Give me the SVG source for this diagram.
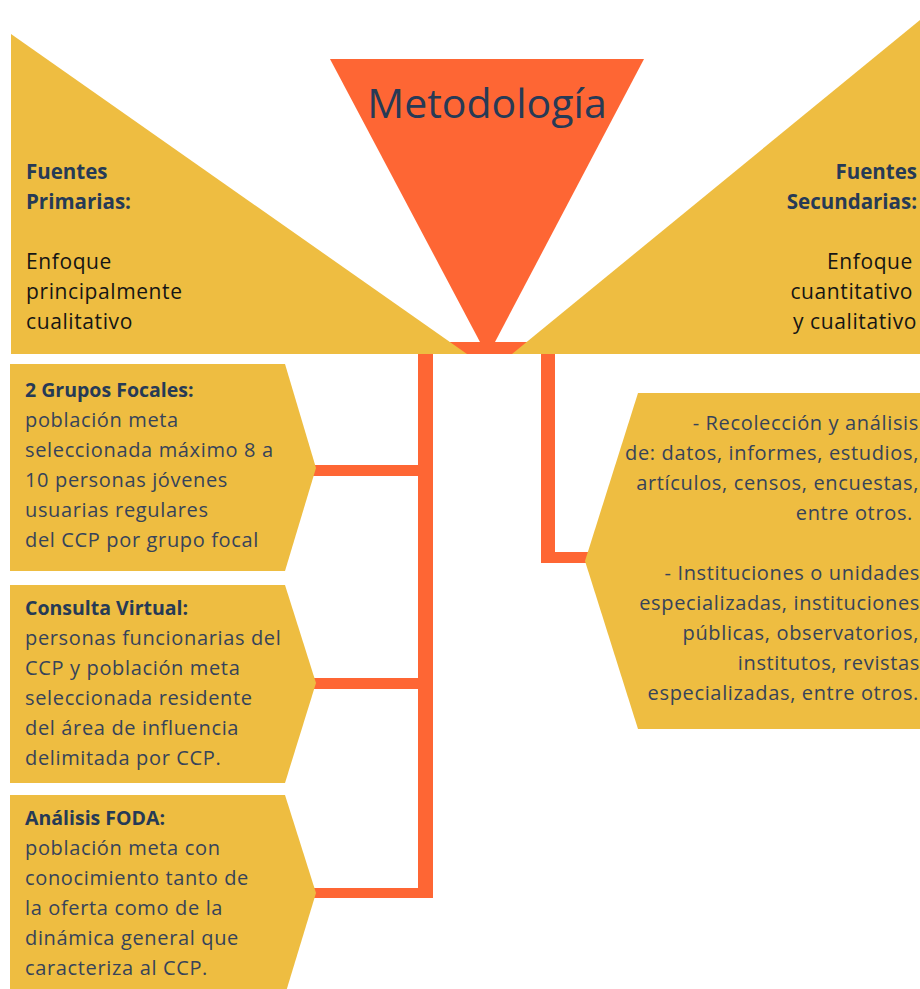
<svg xmlns="http://www.w3.org/2000/svg" width="920" height="989" viewBox="0 0 920 989">
<style>
.y{fill:#EEBD41}
.o{fill:#FE6634}
.c{fill:none;stroke:#FE6634;stroke-linecap:butt;stroke-linejoin:miter}
.t{font-family:"Open Sans","Liberation Sans",sans-serif;font-size:20px;letter-spacing:0.65px;fill:#36435A}
.h{font-family:"Open Sans","Liberation Sans",sans-serif;font-size:19.5px;font-weight:700;letter-spacing:0;fill:#263A56}
.tb{font-family:"Open Sans","Liberation Sans",sans-serif;font-size:21px;letter-spacing:0.6px;fill:#151515}
.th{font-family:"Open Sans","Liberation Sans",sans-serif;font-size:20.5px;font-weight:700;fill:#263A56}
.r{text-anchor:end}
</style>
<rect width="920" height="989" fill="#FFFFFF"/>
<g id="connectors">
<rect class="o" x="418" y="342" width="137" height="12"/>
<path class="c" stroke-width="15" d="M425.5 348 V898"/>
<path class="c" stroke-width="11" d="M300 470.5 H425"/>
<path class="c" stroke-width="11" d="M300 683.5 H425"/>
<path class="c" stroke-width="10" d="M300 893 H433"/>
<path class="c" stroke-width="14" d="M548 348 V563"/>
<path class="c" stroke-width="11" d="M541 557.5 H600"/>
</g>
<g id="metodologia">
<polygon class="o" points="330,59 644,59 495,342 480,342"/>
<text x="487" y="118" text-anchor="middle" font-family="'Open Sans','Liberation Sans',sans-serif" font-size="41" fill="#263A56">Metodología</text>
</g>
<g id="fuentes-primarias">
<polygon class="y" points="11,34 467,354 11,354"/>
<text class="th" x="26" y="179">Fuentes</text>
<text class="th" x="26" y="209">Primarias:</text>
<text class="tb" x="26" y="269">Enfoque</text>
<text class="tb" x="26" y="299">principalmente</text>
<text class="tb" x="26" y="329">cualitativo</text>
</g>
<g id="fuentes-secundarias">
<polygon class="y" points="920,20 920,354 512,354"/>
<text class="th r" x="917" y="179">Fuentes</text>
<text class="th r" x="917" y="209">Secundarias:</text>
<text class="tb r" x="913" y="269">Enfoque</text>
<text class="tb r" x="913" y="299">cuantitativo</text>
<text class="tb r" x="917" y="329">y cualitativo</text>
</g>
<g id="grupos-focales">
<polygon class="y" points="10,364 285,364 316,468 285,571 10,571"/>
<text class="h" x="25" y="397">2 Grupos Focales:</text>
<text class="t" x="25" y="427">población meta</text>
<text class="t" x="25" y="457">seleccionada máximo 8 a</text>
<text class="t" x="25" y="487">10 personas jóvenes</text>
<text class="t" x="25" y="517">usuarias regulares</text>
<text class="t" x="25" y="547">del CCP por grupo focal</text>
</g>
<g id="consulta-virtual">
<polygon class="y" points="10,585 285,585 316,683 285,783 10,783"/>
<text class="h" x="25" y="615">Consulta Virtual:</text>
<text class="t" x="25" y="645">personas funcionarias del</text>
<text class="t" x="25" y="675">CCP y población meta</text>
<text class="t" x="25" y="705">seleccionada residente</text>
<text class="t" x="25" y="735">del área de influencia</text>
<text class="t" x="25" y="765">delimitada por CCP.</text>
</g>
<g id="analisis-foda">
<polygon class="y" points="10,795 285,795 316,893 285,995 10,995"/>
<text class="h" x="25" y="825">Análisis FODA:</text>
<text class="t" x="25" y="855">población meta con</text>
<text class="t" x="25" y="885">conocimiento tanto de</text>
<text class="t" x="25" y="915">la oferta como de la</text>
<text class="t" x="25" y="945">dinámica general que</text>
<text class="t" x="25" y="975">caracteriza al CCP.</text>
</g>
<g id="secundarias-detalle">
<polygon class="y" points="638,393 920,393 920,729 638,729 585,561"/>
<text class="t r" x="919" y="430">- Recolección y análisis</text>
<text class="t r" x="919" y="460">de: datos, informes, estudios,</text>
<text class="t r" x="919" y="490">artículos, censos, encuestas,</text>
<text class="t r" x="913" y="520">entre otros.</text>
<text class="t r" x="920" y="580">- Instituciones o unidades</text>
<text class="t r" x="920" y="610">especializadas, instituciones</text>
<text class="t r" x="919" y="640">públicas, observatorios,</text>
<text class="t r" x="920" y="670">institutos, revistas</text>
<text class="t r" x="919" y="700">especializadas, entre otros.</text>
</g>
</svg>
